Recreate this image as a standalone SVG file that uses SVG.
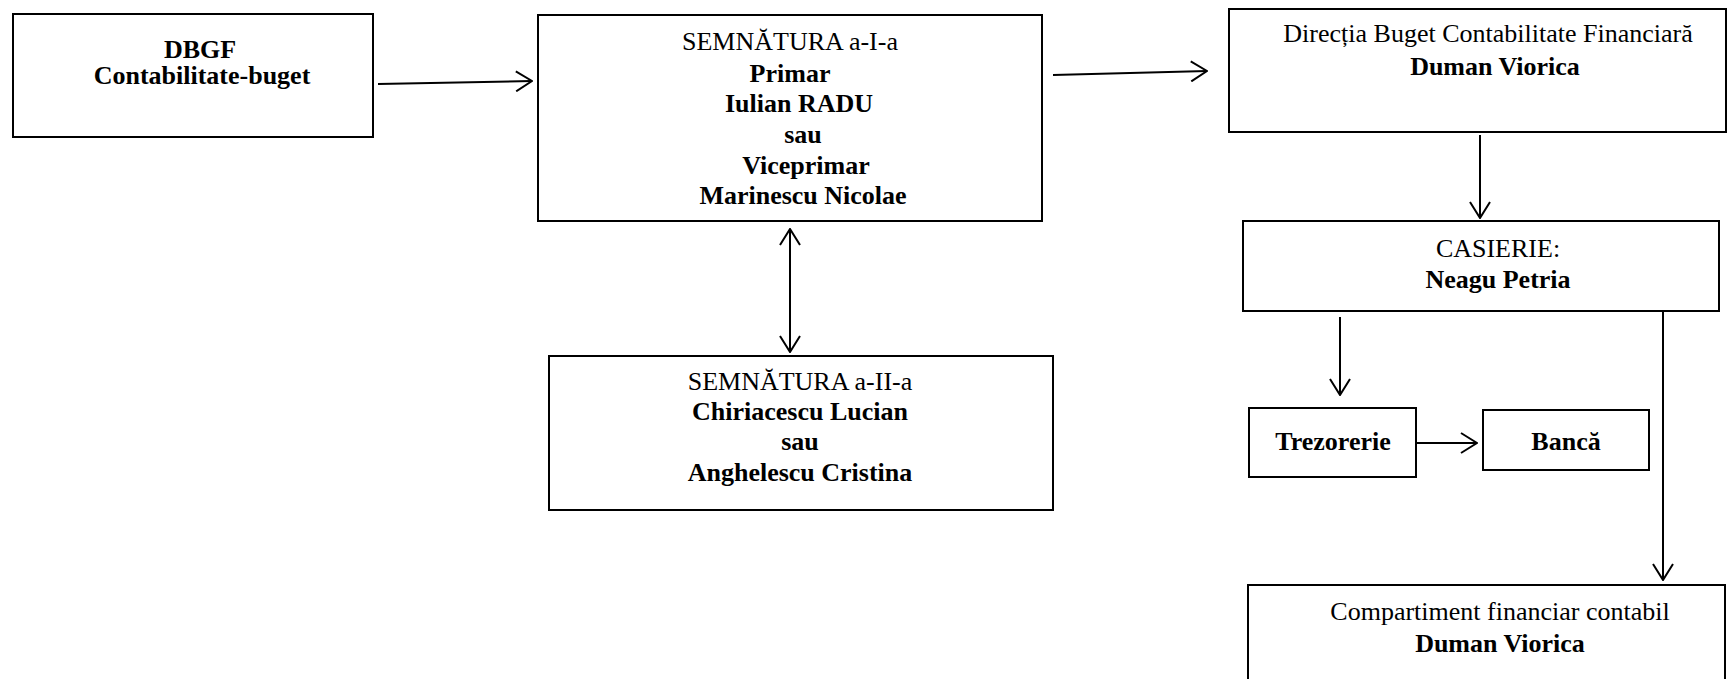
<svg xmlns="http://www.w3.org/2000/svg" width="1731" height="679" viewBox="0 0 1731 679">
<defs>
<style>
.box{fill:#fff;stroke:#000;stroke-width:2}
.t{font-family:"Liberation Serif","Times New Roman",serif;font-size:26px;fill:#000;text-anchor:middle}
.b{font-weight:bold}
.c{fill:none;stroke:#000;stroke-width:2}
</style>
<marker id="ah" viewBox="0 0 18 22" refX="17" refY="11" markerWidth="18" markerHeight="22" markerUnits="userSpaceOnUse" orient="auto-start-reverse">
<path d="M1,1 L17,11 L1,21" fill="none" stroke="#000" stroke-width="2"/>
</marker>
</defs>
<rect width="1731" height="679" fill="#fff"/>
<g id="connectors">
<line class="c" x1="378" y1="84" x2="532" y2="81" marker-end="url(#ah)"/>
<line class="c" x1="1053" y1="75" x2="1207" y2="71" marker-end="url(#ah)"/>
<line class="c" x1="790" y1="229" x2="790" y2="352" marker-start="url(#ah)" marker-end="url(#ah)"/>
<line class="c" x1="1480" y1="135" x2="1480" y2="218" marker-end="url(#ah)"/>
<line class="c" x1="1340" y1="317" x2="1340" y2="395" marker-end="url(#ah)"/>
<line class="c" x1="1416" y1="443" x2="1477" y2="443" marker-end="url(#ah)"/>
<line class="c" x1="1663" y1="311" x2="1663" y2="580" marker-end="url(#ah)"/>
</g>
<g id="dbgf">
<rect class="box" x="13" y="14" width="360" height="123"/>
<text class="t b" x="200" y="58">DBGF</text>
<text class="t b" x="202" y="84">Contabilitate-buget</text>
</g>
<g id="semnatura1">
<rect class="box" x="538" y="15" width="504" height="206"/>
<text class="t" x="790" y="50">SEMNĂTURA a-I-a</text>
<text class="t b" x="790" y="82">Primar</text>
<text class="t b" x="799" y="112">Iulian RADU</text>
<text class="t b" x="803" y="143">sau</text>
<text class="t b" x="806" y="174">Viceprimar</text>
<text class="t b" x="803" y="204">Marinescu Nicolae</text>
</g>
<g id="semnatura2">
<rect class="box" x="549" y="356" width="504" height="154"/>
<text class="t" x="800" y="390">SEMNĂTURA a-II-a</text>
<text class="t b" x="800" y="420">Chiriacescu Lucian</text>
<text class="t b" x="800" y="450">sau</text>
<text class="t b" x="800" y="481">Anghelescu Cristina</text>
</g>
<g id="directia">
<rect class="box" x="1229" y="9" width="497" height="123"/>
<text class="t" x="1488" y="42">Direcția Buget Contabilitate Financiară</text>
<text class="t b" x="1495" y="75">Duman Viorica</text>
</g>
<g id="casierie">
<rect class="box" x="1243" y="221" width="476" height="90"/>
<text class="t" x="1498" y="257">CASIERIE:</text>
<text class="t b" x="1498" y="288">Neagu Petria</text>
</g>
<g id="trezorerie">
<rect class="box" x="1249" y="408" width="167" height="69"/>
<text class="t b" x="1333" y="450">Trezorerie</text>
</g>
<g id="banca">
<rect class="box" x="1483" y="410" width="166" height="60"/>
<text class="t b" x="1566" y="450">Bancă</text>
</g>
<g id="compartiment">
<rect class="box" x="1248" y="585" width="477" height="110"/>
<text class="t" x="1500" y="620">Compartiment financiar contabil</text>
<text class="t b" x="1500" y="652">Duman Viorica</text>
</g>
</svg>
